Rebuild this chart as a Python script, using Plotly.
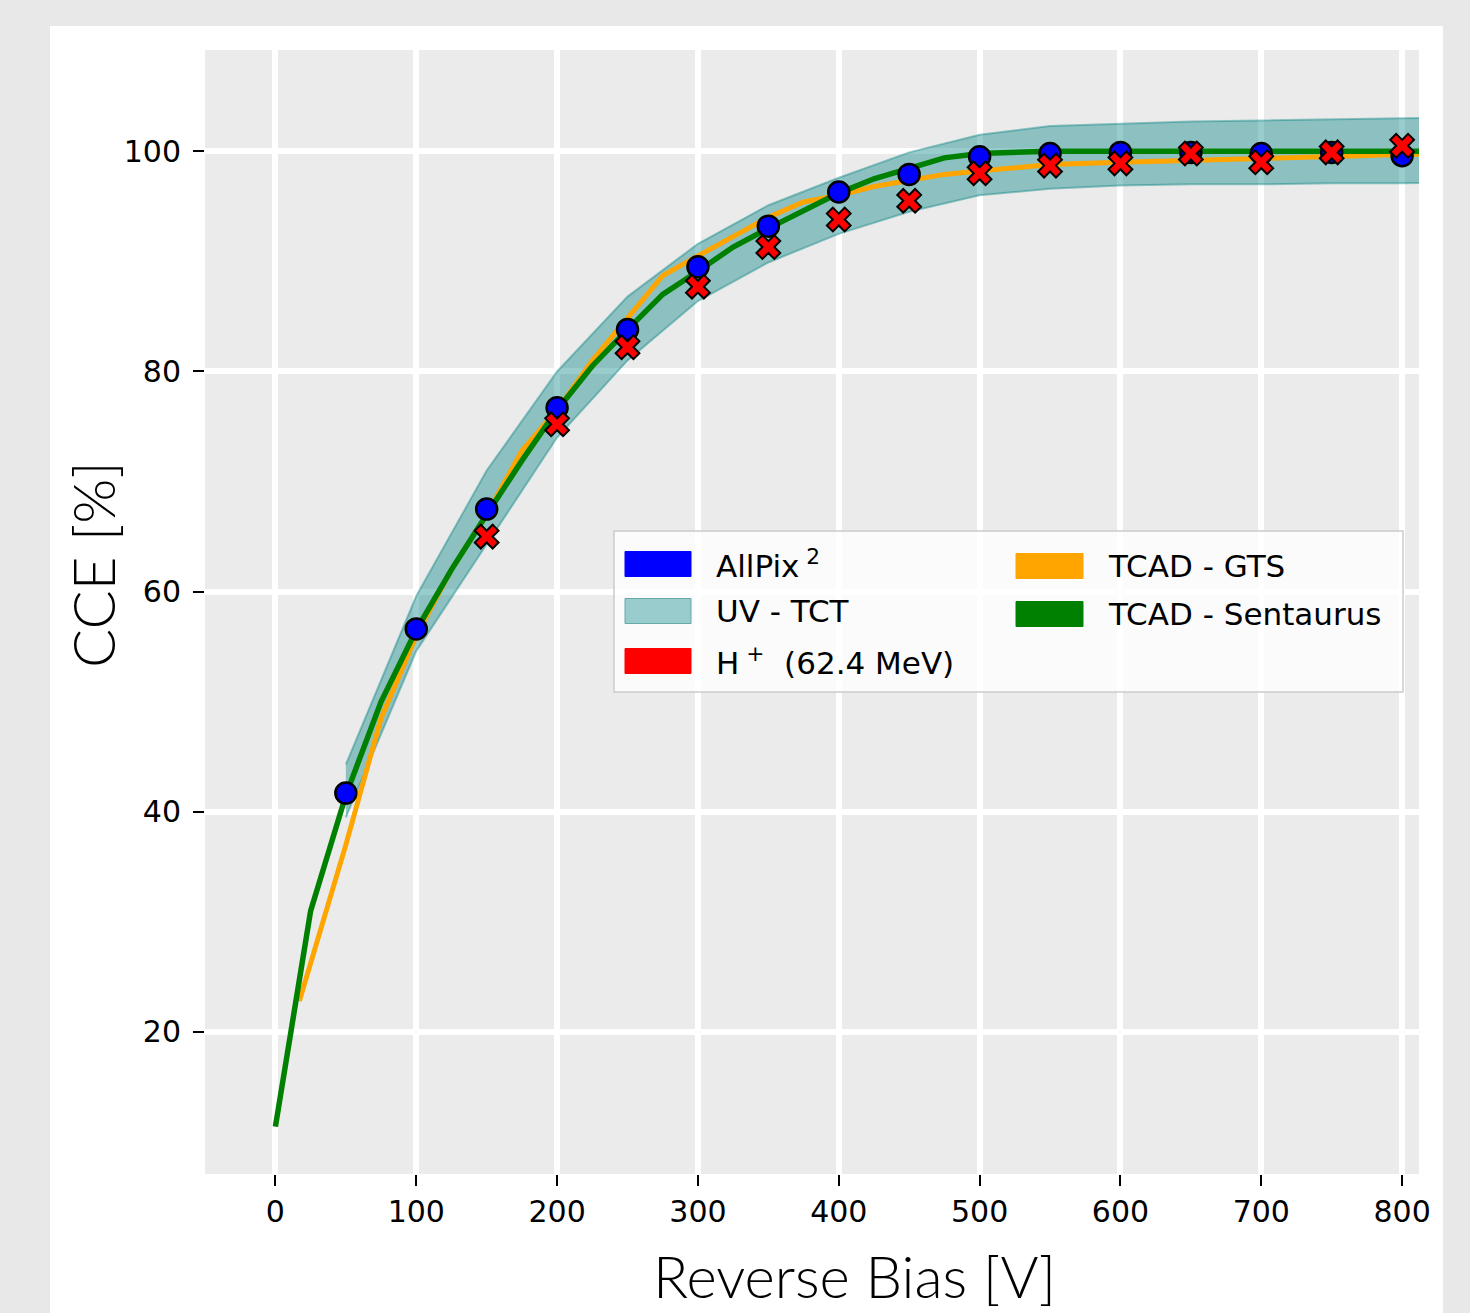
import plotly.graph_objects as go

# ---------------- data ----------------
bias_allpix = [50, 100, 150, 200, 250, 300, 350, 400, 450, 500, 550, 600, 650, 700, 750, 800]
cce_allpix = [41.7, 56.6, 67.5, 76.7, 83.8, 89.5, 93.2, 96.3, 97.9, 99.5, 99.8, 99.9, 99.9, 99.8, 99.9, 99.6]

bias_proton = [150, 200, 250, 300, 350, 400, 450, 500, 550, 600, 650, 700, 750, 800]
cce_proton = [65.0, 75.2, 82.2, 87.7, 91.3, 93.8, 95.5, 98.0, 98.7, 98.9, 99.8, 99.0, 99.9, 100.5]

bias_uvtct = [50, 100, 150, 200, 250, 300, 350, 400, 450, 500, 550, 600, 650, 700, 750, 800, 850]
cce_uvtct_upper = [44.3, 59.6, 71.0, 80.0, 86.8, 91.6, 95.1, 97.6, 99.9, 101.5, 102.3, 102.5, 102.7, 102.8, 102.9, 103.0, 103.1]
cce_uvtct_lower = [39.5, 54.6, 64.3, 74.0, 81.0, 86.4, 89.9, 92.5, 94.5, 96.0, 96.6, 96.9, 97.0, 97.0, 97.1, 97.1, 97.2]

bias_gts = [17, 50, 75, 100, 125, 150, 175, 200, 225, 250, 275, 300, 325, 350, 375, 400, 425, 450,
            475, 500, 550, 600, 650, 700, 750, 800, 850]
cce_gts = [22.8, 37.0, 48.5, 56.0, 62.0, 67.0, 72.8, 76.5, 81.0, 84.9, 88.7, 90.5, 92.3, 94.0, 95.4,
           96.0, 96.8, 97.4, 97.9, 98.2, 98.8, 99.0, 99.2, 99.4, 99.6, 99.7, 99.8]

bias_sent = [0, 25, 50, 75, 100, 125, 150, 175, 200, 225, 250, 275, 300, 325, 350, 375, 400, 425, 450,
             475, 500, 550, 600, 650, 700, 750, 800, 850]
cce_sent = [11.4, 31.0, 41.5, 50.0, 56.5, 62.0, 67.0, 71.9, 76.5, 80.5, 83.8, 87.0, 89.1, 91.3, 93.0,
            94.6, 96.2, 97.5, 98.5, 99.4, 99.8, 100.0, 100.0, 100.0, 100.0, 100.0, 100.0, 100.0]

x_ticks = [0, 100, 200, 300, 400, 500, 600, 700, 800]
y_ticks = [20, 40, 60, 80, 100]

legend_col1 = ["AllPix<sup>&nbsp;2</sup>", "UV - TCT", "H<sup>&nbsp;+</sup>&nbsp; (62.4 MeV)"]
legend_col2 = ["TCAD - GTS", "TCAD - Sentaurus"]

# ---------------- geometry helpers ----------------
W, H = 1470, 1313
L, R, T, B = 205, 1419, 50, 1174


def px(x):
    return (x - L) / (R - L)


def py(y):
    return (B - y) / (B - T)


TEAL_FILL = "rgba(0,128,128,0.4)"
OUTER = "#e8e8e8"

fig = go.Figure()

# UV-TCT band
fig.add_trace(go.Scatter(
    x=bias_uvtct + bias_uvtct[::-1],
    y=cce_uvtct_upper + cce_uvtct_lower[::-1],
    fill="toself", fillcolor=TEAL_FILL,
    line=dict(color=TEAL_FILL, width=2),
    mode="lines", showlegend=False, hoverinfo="skip"))

# TCAD GTS
fig.add_trace(go.Scatter(x=bias_gts, y=cce_gts, mode="lines",
                         line=dict(color="orange", width=5), showlegend=False))
# TCAD Sentaurus
fig.add_trace(go.Scatter(x=bias_sent, y=cce_sent, mode="lines",
                         line=dict(color="green", width=5.5), showlegend=False))
# AllPix2
fig.add_trace(go.Scatter(x=bias_allpix, y=cce_allpix, mode="markers",
                         marker=dict(symbol="circle", size=21, color="blue",
                                     line=dict(color="black", width=2.5)),
                         showlegend=False))
# H+
fig.add_trace(go.Scatter(x=bias_proton, y=cce_proton, mode="markers",
                         marker=dict(symbol="x", size=21, color="red",
                                     line=dict(color="black", width=2)),
                         showlegend=False))

shapes = []
annotations = []

# outer gray frame around the white panel (outside the plot area)
frame_rects = [
    (px(-10), px(50), py(1330), py(-10)),      # left strip
    (px(1443), px(1480), py(1330), py(-10)),   # right strip
    (px(-10), px(1480), py(26), py(-10)),      # top strip
]
for x0, x1, y0, y1 in frame_rects:
    shapes.append(dict(type="rect", xref="paper", yref="paper",
                       x0=x0, x1=x1, y0=y0, y1=y1,
                       fillcolor=OUTER, line=dict(width=0), layer="below"))

# legend box
shapes.append(dict(type="rect", xref="paper", yref="paper",
                   x0=px(614), x1=px(1403), y0=py(692), y1=py(531),
                   fillcolor="rgba(255,255,255,0.8)", line=dict(color="#cccccc", width=1.5),
                   layer="above"))

legend_patch_col1 = [("blue", "blue"), ("#99cccc", "#66aaaa"), ("red", "red")]
row_y1 = [564, 611, 661]
for (fc, lc), yc, txt in zip(legend_patch_col1, row_y1, legend_col1):
    shapes.append(dict(type="rect", xref="paper", yref="paper",
                       x0=px(625), x1=px(691), y0=py(yc + 12.5), y1=py(yc - 12.5),
                       fillcolor=fc, line=dict(color=lc, width=1), layer="above"))
    annotations.append(dict(xref="paper", yref="paper", x=px(714), y=py(yc),
                            xanchor="left", yanchor="middle", showarrow=False, text=txt,
                            font=dict(family="DejaVu Sans", size=31, color="black")))

legend_patch_col2 = [("orange", "orange"), ("green", "green")]
row_y2 = [566, 614]
for (fc, lc), yc, txt in zip(legend_patch_col2, row_y2, legend_col2):
    shapes.append(dict(type="rect", xref="paper", yref="paper",
                       x0=px(1016), x1=px(1083), y0=py(yc + 12.5), y1=py(yc - 12.5),
                       fillcolor=fc, line=dict(color=lc, width=1), layer="above"))
    annotations.append(dict(xref="paper", yref="paper", x=px(1106), y=py(yc),
                            xanchor="left", yanchor="middle", showarrow=False, text=txt,
                            font=dict(family="DejaVu Sans", size=31, color="black")))

# axis titles
annotations.append(dict(xref="paper", yref="paper", x=px(855), y=py(1275),
                        xanchor="center", yanchor="middle", showarrow=False,
                        text="Reverse Bias [V]",
                        font=dict(family="Lato", size=58, color="black", weight=300)))
annotations.append(dict(xref="paper", yref="paper", x=px(92), y=py(565),
                        xanchor="center", yanchor="middle", showarrow=False,
                        text="CCE [%]", textangle=-90,
                        font=dict(family="Lato", size=58, color="black", weight=300)))

fig.update_layout(
    width=W, height=H,
    margin=dict(l=L, r=W - R, t=T, b=H - B, pad=0),
    paper_bgcolor="white",
    plot_bgcolor="#ebebeb",
    shapes=shapes,
    annotations=annotations,
    showlegend=False,
    font=dict(family="DejaVu Sans", size=30, color="black"),
)

fig.update_xaxes(range=[-50, 812], tickvals=x_ticks, ticktext=[str(v) for v in x_ticks],
                 showgrid=True, gridcolor="white", gridwidth=5.5, zeroline=False,
                 showline=False, ticks="outside", ticklen=11, tickwidth=2, tickcolor="black",
                 tickfont=dict(family="DejaVu Sans", size=30, color="black"),
                 ticklabelstandoff=0)
fig.update_yaxes(range=[7.1, 109.2], tickvals=y_ticks, ticktext=[str(v) for v in y_ticks],
                 showgrid=True, gridcolor="white", gridwidth=5.5, zeroline=False,
                 showline=False, ticks="outside", ticklen=11, tickwidth=2, tickcolor="black",
                 tickfont=dict(family="DejaVu Sans", size=30, color="black"),
                 ticklabelstandoff=6)

fig.write_html("out.html")
